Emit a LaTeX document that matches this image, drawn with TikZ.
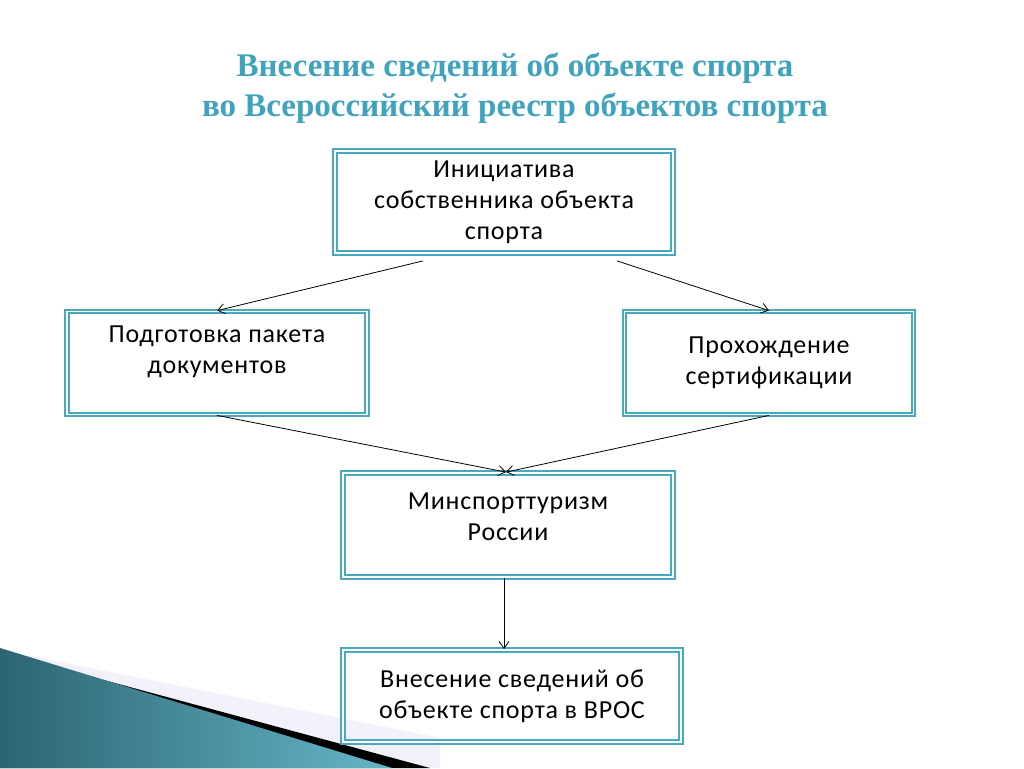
\documentclass[tikz,border=0pt]{standalone}
\usepackage{fontspec}
\setmainfont{Carlito}[LetterSpace=3]
\newfontfamily\titlefont{Liberation Serif}
\usetikzlibrary{positioning,calc,arrows.meta}
\definecolor{boxteal}{HTML}{4AA8BE}
\definecolor{titleteal}{HTML}{3FA3BE}
\begin{document}
\begin{tikzpicture}[x=1pt,y=-1pt]
  \tikzset{main node/.style={rectangle, draw=boxteal, line width=1.8pt,
		double=white, double distance=1.6pt, text centered, font=\fontsize{26}{31}\selectfont}, }
\tikzset{linea/.style={-{Straight Barb[length=7pt,width=10pt]}, line width=0.8pt},}
\newcommand{\toptext}[2]{\parbox[c][#1pt][t]{300pt}{\centering #2}}
\useasboundingbox (0,0) rectangle (1024,768);
% bottom left decoration
\fill[cyan!10!blue!5] (0,650) -- (440,738) -- (440,768) -- (0,768) -- cycle;
\fill[black] (0,652) -- (430,768) -- (0,768) -- cycle;
\shade[left color=boxteal!60!black, right color=boxteal!85!white] (0,648) -- (392,768) -- (0,768) -- cycle;
% title
\node[text=titleteal, font=\titlefont\bfseries\fontsize{33}{40}\selectfont, align=center] (title) at (515,88)
  {Внесение сведений об объекте спорта\\во Всероссийский реестр объектов спорта};
% boxes
\node[main node, minimum width=338, minimum height=102, align=center] (init) at (504,202)
  {Инициатива\\собственника объекта\\спорта};
\node[main node, minimum width=297, minimum height=103, inner sep=0pt] (docs) at (217,363)
  {\toptext{74}{Подготовка пакета\\документов}};
\node[main node, minimum width=289, minimum height=103, align=center] (cert) at (769,363)
  {Прохождение\\сертификации};
\node[main node, minimum width=330, minimum height=104, inner sep=0pt] (mins) at (508,525)
  {\toptext{64}{Минспорттуризм\\России}};
\node[main node, minimum width=338, minimum height=92, align=center] (vros) at (512,696)
  {Внесение сведений об\\объекте спорта в ВРОС};
% connector ends
\coordinate (initL) at ($(init.south)+(-81,7)$);
\coordinate (initR) at ($(init.south)+(113,7)$);
\coordinate (minsT) at ($(mins.north)+(-2,0)$);
\coordinate (minsB) at ($(mins.south)+(-4,0)$);
\coordinate (vrosT) at ($(vros.north)+(-8,0)$);
\path[linea] (initL) edge (docs.north);
\path[linea] (initR) edge (cert.north);
\path[linea] (docs.south) edge (minsT);
\path[linea] (cert.south) edge (minsT);
\path[linea] (minsB) edge (vrosT);
\end{tikzpicture}
\end{document}
